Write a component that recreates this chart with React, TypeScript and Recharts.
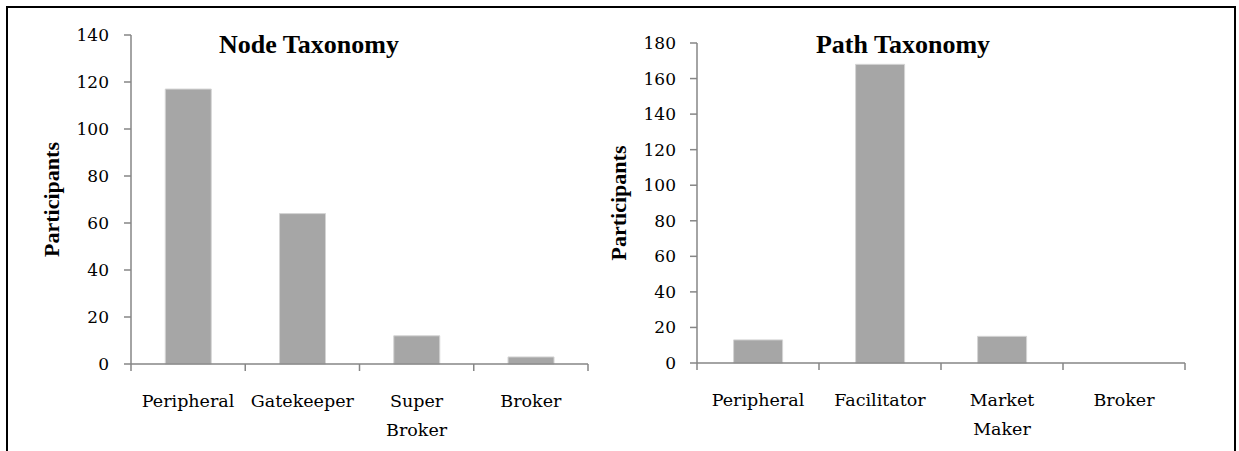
import { Bar, BarChart, XAxis, YAxis } from 'recharts';

const nodeCategories = ['Peripheral', 'Gatekeeper', 'Super Broker', 'Broker'];
const nodeValues = [117, 64, 12, 3];
const nodeTicks = [0, 20, 40, 60, 80, 100, 120, 140];

const pathCategories = ['Peripheral', 'Facilitator', 'Market Maker', 'Broker'];
const pathValues = [13, 168, 15, 0];
const pathTicks = [0, 20, 40, 60, 80, 100, 120, 140, 160, 180];

const FONT = "'DejaVu Serif', serif";
const BOLD_FONT = "'Liberation Serif', serif";
const AXIS = '#868686';
const BAR = '#a6a6a6';

// Excel-style category tick: marks on the band edges, label wrapped on spaces
const CategoryTick = (props: any) => {
  const { x, y, payload, index, visibleTicksCount, width } = props;
  const half = payload?.offset ?? width / visibleTicksCount / 2;
  const lines = String(payload.value).split(' ');
  return (
    <g>
      <line x1={x - half} x2={x - half} y1={y} y2={y + 7} stroke={AXIS} strokeWidth={1.5} />
      {index === visibleTicksCount - 1 && (
        <line x1={x + half} x2={x + half} y1={y} y2={y + 7} stroke={AXIS} strokeWidth={1.5} />
      )}
      <text x={x} y={y + 43} textAnchor="middle" fontFamily={FONT} fontSize={17.5} fill="#000">
        {lines.map((l, i) => (
          <tspan key={i} x={x} dy={i === 0 ? 0 : 29}>
            {l}
          </tspan>
        ))}
      </text>
    </g>
  );
};

interface PanelProps {
  categories: string[];
  values: number[];
  ticks: number[];
  width: number;
  margin: { top: number; right: number; bottom: number; left: number };
  yAxisWidth: number;
  labelOffset: number;
  tickMargin: number;
}

const Panel = ({ categories, values, ticks, width, margin, yAxisWidth, labelOffset, tickMargin }: PanelProps) => {
  const data = categories.map((name, i) => ({ name, value: values[i] }));
  return (
    <BarChart width={width} height={451} data={data} margin={margin} barCategoryGap="30%">
      <XAxis
        dataKey="name"
        height={80}
        interval={0}
        tickSize={0}
        tickMargin={0}
        tickLine={false}
        axisLine={{ stroke: AXIS, strokeWidth: 1.5 }}
        tick={<CategoryTick />}
      />
      <YAxis
        width={yAxisWidth}
        domain={[0, ticks[ticks.length - 1]]}
        ticks={ticks}
        interval={0}
        tickSize={7}
        tickMargin={tickMargin}
        axisLine={{ stroke: AXIS, strokeWidth: 1.5 }}
        tickLine={{ stroke: AXIS, strokeWidth: 1.5 }}
        tick={{ fill: '#000', fontFamily: FONT, fontSize: 17 }}
        label={{
          value: 'Participants',
          angle: -90,
          position: 'insideLeft',
          offset: labelOffset,
          style: { textAnchor: 'middle', fontFamily: BOLD_FONT, fontSize: 22, fontWeight: 'bold', fill: '#000' }
        }}
      />
      <Bar dataKey="value" fill={BAR} stroke="#d4d4d4" strokeWidth={1} isAnimationActive={false} />
    </BarChart>
  );
};

export default function App() {
  return (
    <div style={{ position: 'absolute', left: 0, top: 0, width: 1239, height: 451, overflow: 'hidden', background: '#fff' }}>
      <div
        style={{
          position: 'absolute',
          left: 6,
          top: 6,
          width: 1230,
          height: 470,
          boxSizing: 'border-box',
          border: '2px solid #000',
          borderBottom: 'none'
        }}
      />
      <div style={{ position: 'absolute', left: 0, top: 0 }}>
        <Panel
          categories={nodeCategories}
          values={nodeValues}
          ticks={nodeTicks}
          width={620}
          margin={{ top: 35, right: 32, bottom: 7, left: 0 }}
          yAxisWidth={131}
          labelOffset={51}
          tickMargin={15}
        />
      </div>
      <div style={{ position: 'absolute', left: 580, top: 0 }}>
        <Panel
          categories={pathCategories}
          values={pathValues}
          ticks={pathTicks}
          width={659}
          margin={{ top: 43, right: 54, bottom: 8, left: 0 }}
          yAxisWidth={117}
          labelOffset={38}
          tickMargin={14}
        />
      </div>
      <svg width={1239} height={451} style={{ position: 'absolute', left: 0, top: 0, pointerEvents: 'none' }}>
        <text x={309} y={53} textAnchor="middle" fontFamily={BOLD_FONT} fontSize={26} fontWeight="bold" fill="#000">
          Node Taxonomy
        </text>
        <text x={903} y={53} textAnchor="middle" fontFamily={BOLD_FONT} fontSize={26} fontWeight="bold" fill="#000">
          Path Taxonomy
        </text>
      </svg>
    </div>
  );
}
